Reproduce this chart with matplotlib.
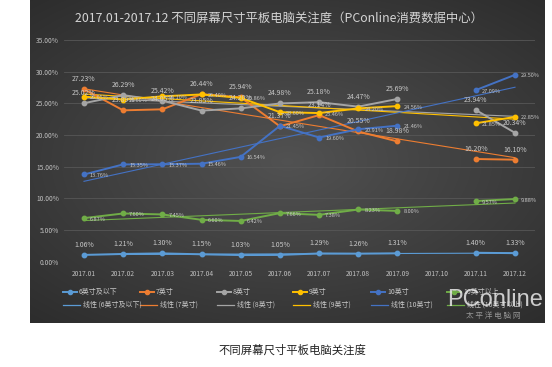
import numpy as np
import matplotlib
matplotlib.use("Agg")
import matplotlib.pyplot as plt
from matplotlib.lines import Line2D

plt.rcParams['font.family'] = ['Noto Sans CJK SC', 'DejaVu Sans']

months = ["2017.01", "2017.02", "2017.03", "2017.04", "2017.05", "2017.06",
          "2017.07", "2017.08", "2017.09", "2017.10", "2017.11", "2017.12"]
nan = np.nan
s6 = [1.06, 1.21, 1.30, 1.15, 1.03, 1.05, 1.29, 1.26, 1.31, nan, 1.40, 1.33]
s7 = [27.23, 23.89, 24.05, 26.44, 25.94, 21.37, 23.14, 20.55, 18.98, nan, 16.20, 16.10]
s8 = [25.02, 26.29, 25.42, 23.85, 24.20, 24.98, 25.18, 24.47, 25.69, nan, 23.94, 20.34]
s9 = [26.05, 25.60, 26.10, 26.40, 25.86, 23.60, 23.46, 24.20, 24.56, nan, 21.85, 22.85]
s10 = [13.76, 15.35, 15.37, 15.46, 16.54, 21.45, 19.60, 20.91, 21.46, nan, 27.09, 29.50]
s10p = [6.87, 7.60, 7.45, 6.60, 6.42, 7.66, 7.38, 8.23, 8.00, nan, 9.57, 9.88]

names = ["6英寸及以下", "7英寸", "8英寸", "9英寸", "10英寸", "10英寸以上"]
series = [s6, s7, s8, s9, s10, s10p]
colors = ["#5B9BD5", "#ED7D31", "#A5A5A5", "#FFC000", "#4472C4", "#70AD47"]
label_pos = ["above", "above", "above", "right", "right", "right"]

W, H = 552, 367
fig = plt.figure(figsize=(W / 100, H / 100), dpi=100)
fig.patch.set_facecolor("white")

# dark gradient background panel
bx0, bx1, by1 = 30, 545, 323
bg = fig.add_axes([bx0 / W, 1 - by1 / H, (bx1 - bx0) / W, by1 / H])
gx, gy = np.meshgrid(np.linspace(-1, 1, 400), np.linspace(-1, 1, 300))
r = np.sqrt((gx * 0.9) ** 2 + (gy * 1.0) ** 2)
val = 0.32 - 0.15 * np.clip(r, 0, 1.4) / 1.4
img = np.dstack([val, val, val])
bg.imshow(img, aspect="auto", extent=[0, 1, 0, 1], interpolation="bilinear")
bg.set_axis_off()

left, right = 64.4, 534.6
top, bottom = 40.0, 261.6
ax = fig.add_axes([left / W, 1 - bottom / H, (right - left) / W, (bottom - top) / H])
ax.patch.set_alpha(0)
x = np.arange(len(months))
ax.set_xlim(-0.5, len(months) - 0.5)
ax.set_ylim(0, 35)
ax.set_yticks(np.arange(0, 36, 5))
ax.set_yticklabels([f"{v:.2f}%" for v in np.arange(0, 36, 5)])
ax.set_xticks(x)
ax.set_xticklabels(months)
ax.tick_params(axis="both", length=0, colors="#bfbfbf", labelsize=4.8)
ax.tick_params(axis="x", pad=6)
ax.tick_params(axis="y", pad=4)
for sp in ax.spines.values():
    sp.set_visible(False)
ax.grid(axis="y", color="#575757", lw=0.6)
ax.set_axisbelow(True)

for vals, col, pos in zip(series, colors, label_pos):
    v = np.array(vals, dtype=float)
    ax.plot(x, v, color=col, lw=1.4, marker="o", ms=3.2, zorder=3)
    ok = ~np.isnan(v)
    k, b = np.polyfit(x[ok] + 1, v[ok], 1)
    ax.plot([x[0], x[-1]], [k * 1 + b, k * 12 + b], color=col, lw=0.8, zorder=2)
    for xi, vi in zip(x[ok], v[ok]):
        txt = f"{vi:.2f}%"
        if pos == "above":
            ax.annotate(txt, (xi, vi), xytext=(0, 6), textcoords="offset pixels",
                        ha="center", va="bottom", fontsize=5, color="#c8c8c8", zorder=4)
        else:
            ax.annotate(txt, (xi, vi), xytext=(6, -1), textcoords="offset pixels",
                        ha="left", va="center", fontsize=4, color="#c8c8c8", zorder=4)

fig.text(279 / W, 1 - 18 / H,
         "2017.01-2017.12 不同屏幕尺寸平板电脑关注度（PConline消费数据中心）",
         ha="center", va="center", fontsize=8.9, color="#d4d4d4")

# legend (two rows, six columns)
col_x = [63, 140, 217, 293, 371, 447]
for i, (nm, col) in enumerate(zip(names, colors)):
    y1 = 1 - 292 / H
    y2 = 1 - 305 / H
    x0 = col_x[i] / W
    x1 = (col_x[i] + 14) / W
    fig.add_artist(Line2D([x0, x1], [y1, y1], color=col, lw=1.4, transform=fig.transFigure))
    fig.add_artist(Line2D([(x0 + x1) / 2], [y1], color=col, marker="o", ms=3,
                          transform=fig.transFigure))
    fig.text(x1 + 2 / W, y1, nm, ha="left", va="center", fontsize=5, color="#c8c8c8")
    x1b = (col_x[i] + 17) / W
    fig.add_artist(Line2D([x0, x1b], [y2, y2], color=col, lw=0.9, transform=fig.transFigure))
    fig.text(x1b + 3 / W, y2, f"线性 ({nm})", ha="left", va="center", fontsize=5, color="#c8c8c8")

# watermark
fig.text(495 / W, 1 - 300 / H, "PConline", ha="center", va="center", fontsize=17,
         color="#e8e8e8", alpha=0.85, family=["Liberation Sans", "DejaVu Sans"])
fig.text(493 / W, 1 - 316 / H, "太 平 洋 电 脑 网", ha="center", va="center", fontsize=5.5,
         color="#b0b0b0", alpha=0.8)

fig.text(292 / W, 1 - 350 / H, "不同屏幕尺寸平板电脑关注度", ha="center", va="center",
         fontsize=8.2, color="#222222")

fig.savefig("out.png", dpi=100)
